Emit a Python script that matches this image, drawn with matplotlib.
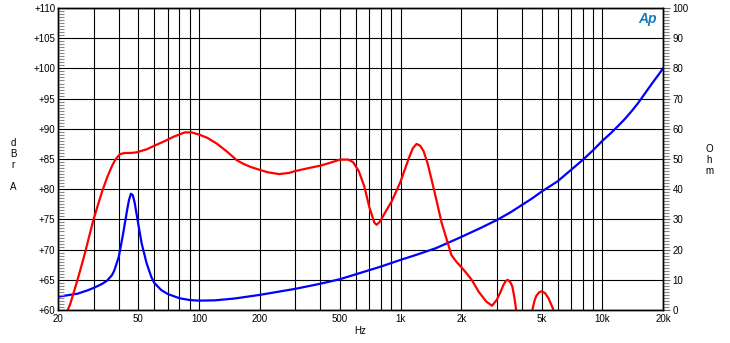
import numpy as np
import matplotlib
matplotlib.use("Agg")
import matplotlib.pyplot as plt
from matplotlib.ticker import FixedLocator, MultipleLocator, NullFormatter

plt.rcParams['font.family'] = ['Liberation Sans', 'DejaVu Sans']

# response (dBrA)
spl_freq = [22, 23, 25, 27, 30, 33, 35, 37, 38.5, 40.5, 43, 46, 49, 55, 61, 65, 69, 75,
            85, 92, 101, 110, 122, 138, 154, 166, 180, 200, 220, 250, 280, 300, 350,
            400, 450, 500, 550, 580, 620, 660, 700, 740, 760, 788, 850, 900, 950,
            1000, 1050, 1100, 1150, 1200, 1250, 1300, 1360, 1426, 1500, 1598, 1650,
            1716, 1785, 1900, 2000, 2120, 2250, 2440, 2660, 2840, 3000, 3120, 3230,
            3320, 3400, 3500, 3580, 3660, 3740, 3850, 4100, 4350, 4500, 4600, 4700,
            4850, 5000, 5200, 5400, 5550, 5700, 5900]
spl_db = [59.4, 61.0, 65.0, 69.0, 75.0, 79.5, 81.9, 83.8, 84.9, 85.8, 86.0, 86.0,
          86.1, 86.6, 87.3, 87.7, 88.1, 88.7, 89.4, 89.4, 89.0, 88.5, 87.6, 86.2,
          84.8, 84.2, 83.7, 83.2, 82.8, 82.5, 82.7, 83.0, 83.5, 83.9, 84.4, 84.9,
          84.9, 84.5, 83.0, 80.5, 77.0, 74.5, 74.1, 74.6, 76.5, 77.9, 79.6, 81.3,
          83.3, 85.2, 86.8, 87.5, 87.2, 86.3, 84.3, 81.5, 78.4, 74.4, 72.9, 71.0,
          69.1, 67.9, 67.1, 66.1, 65.0, 63.0, 61.4, 60.7, 61.7, 62.9, 64.1, 64.8,
          65.0, 64.6, 63.9, 62.2, 60.0, 57.0, 55.0, 57.0, 60.0, 61.4, 62.3, 62.9,
          63.1, 62.8, 62.0, 61.1, 60.2, 58.5]

# impedance (Ohm)
imp_freq = [20, 25, 28, 30, 33, 35, 37, 38, 40, 42, 44, 45, 46, 47, 48, 50, 52, 55,
            58, 60, 65, 70, 80, 90, 100, 120, 150, 200, 300, 400, 500, 700, 800,
            1000, 1200, 1500, 2000, 2500, 3000, 3500, 4000, 4500, 5000, 6000, 7000,
            8000, 9000, 10000, 11000, 12000, 13000, 14000, 15000, 16000, 17000,
            18000, 19000, 20000]
imp_ohm = [4.4, 5.4, 6.5, 7.3, 8.6, 9.7, 11.5, 13.0, 17.5, 25.0, 33.0, 36.5, 38.5,
           38.0, 35.5, 28.5, 22.0, 15.5, 11.0, 9.0, 6.6, 5.3, 3.9, 3.3, 3.1, 3.2,
           3.8, 5.0, 7.0, 8.7, 10.2, 13.2, 14.4, 16.6, 18.3, 20.5, 24.2, 27.2, 29.8,
           32.3, 34.8, 37.0, 39.2, 42.6, 46.4, 49.7, 52.9, 56.0, 58.5, 61.0, 63.4,
           65.9, 68.4, 71.0, 73.5, 75.8, 77.9, 80.0]

x_ticks = [20, 50, 100, 200, 500, 1000, 2000, 5000, 10000, 20000]
x_labels = ['20', '50', '100', '200', '500', '1k', '2k', '5k', '10k', '20k']
db_ticks = list(range(60, 111, 5))
ohm_ticks = list(range(0, 101, 10))

fig = plt.figure(figsize=(7.3, 3.43), dpi=100)
ax2 = fig.add_axes([58 / 730, 33 / 343, 605 / 730, 302 / 343])
ax2.set_xscale('log')
ax2.set_xlim(20, 20000)
ax2.set_ylim(0, 100)
ax = ax2.twinx()
ax.set_zorder(ax2.get_zorder() + 1)
ax.patch.set_visible(False)

# grid + impedance on the lower axes
ax2.plot(imp_freq, imp_ohm, color='#0000ff', lw=1.6, solid_joinstyle='round')
minor_x = [m * 10 ** e for e in range(1, 5) for m in range(1, 10)
           if 20 <= m * 10 ** e <= 20000 and m * 10 ** e not in x_ticks]
ax2.xaxis.set_major_locator(FixedLocator(x_ticks))
ax2.xaxis.set_minor_locator(FixedLocator(minor_x))
ax2.xaxis.set_minor_formatter(NullFormatter())
ax2.set_xticklabels(x_labels)
ax2.grid(True, which='both', axis='x', color='black', lw=0.8)
ax2.grid(True, which='major', axis='y', color='black', lw=0.8)
ax2.tick_params(axis='x', which='both', length=0, labelsize=7, pad=3)
ax2.set_xlabel('Hz', fontsize=7, labelpad=1)

# response on the upper axes
ax.set_ylim(60, 110)
ax.plot(spl_freq, spl_db, color='#ff0000', lw=1.6, solid_joinstyle='round')
ax.tick_params(axis='x', which='both', bottom=False, top=False,
               labelbottom=False, labeltop=False)

ax2.yaxis.set_major_locator(FixedLocator(ohm_ticks))
ax2.yaxis.set_minor_locator(MultipleLocator(1))
ax.yaxis.set_major_locator(FixedLocator(db_ticks))
ax.yaxis.set_minor_locator(MultipleLocator(0.5))

# dB on the left, ohm on the right
ax.yaxis.tick_left()
ax2.yaxis.tick_right()
ax.set_yticklabels(['+%d' % v for v in db_ticks])
ax.tick_params(axis='y', which='major', length=0, labelsize=7, pad=2)
ax.tick_params(axis='y', which='minor', direction='in', length=4, color='#888888', width=0.8)
ax2.tick_params(axis='y', which='major', direction='out', length=5, color='#666666',
                labelsize=7, pad=2)
ax2.tick_params(axis='y', which='minor', direction='out', length=4, color='#888888', width=0.8)

for a in (ax, ax2):
    for s in a.spines.values():
        s.set_color('black')
        s.set_linewidth(1.0)

fig.text(13 / 730, 1 - 165 / 343, 'd\nB\nr\n\nA', fontsize=7, ha='center', va='center',
         linespacing=1.15)
fig.text(709 / 730, 1 - 160 / 343, 'O\nh\nm', fontsize=7, ha='center', va='center',
         linespacing=1.15)
fig.text(648 / 730, 1 - 19 / 343, 'Ap', fontsize=10, color='#1a7ab8', ha='center',
         va='center', style='italic', weight='bold')

fig.savefig('out.png', dpi=100)
